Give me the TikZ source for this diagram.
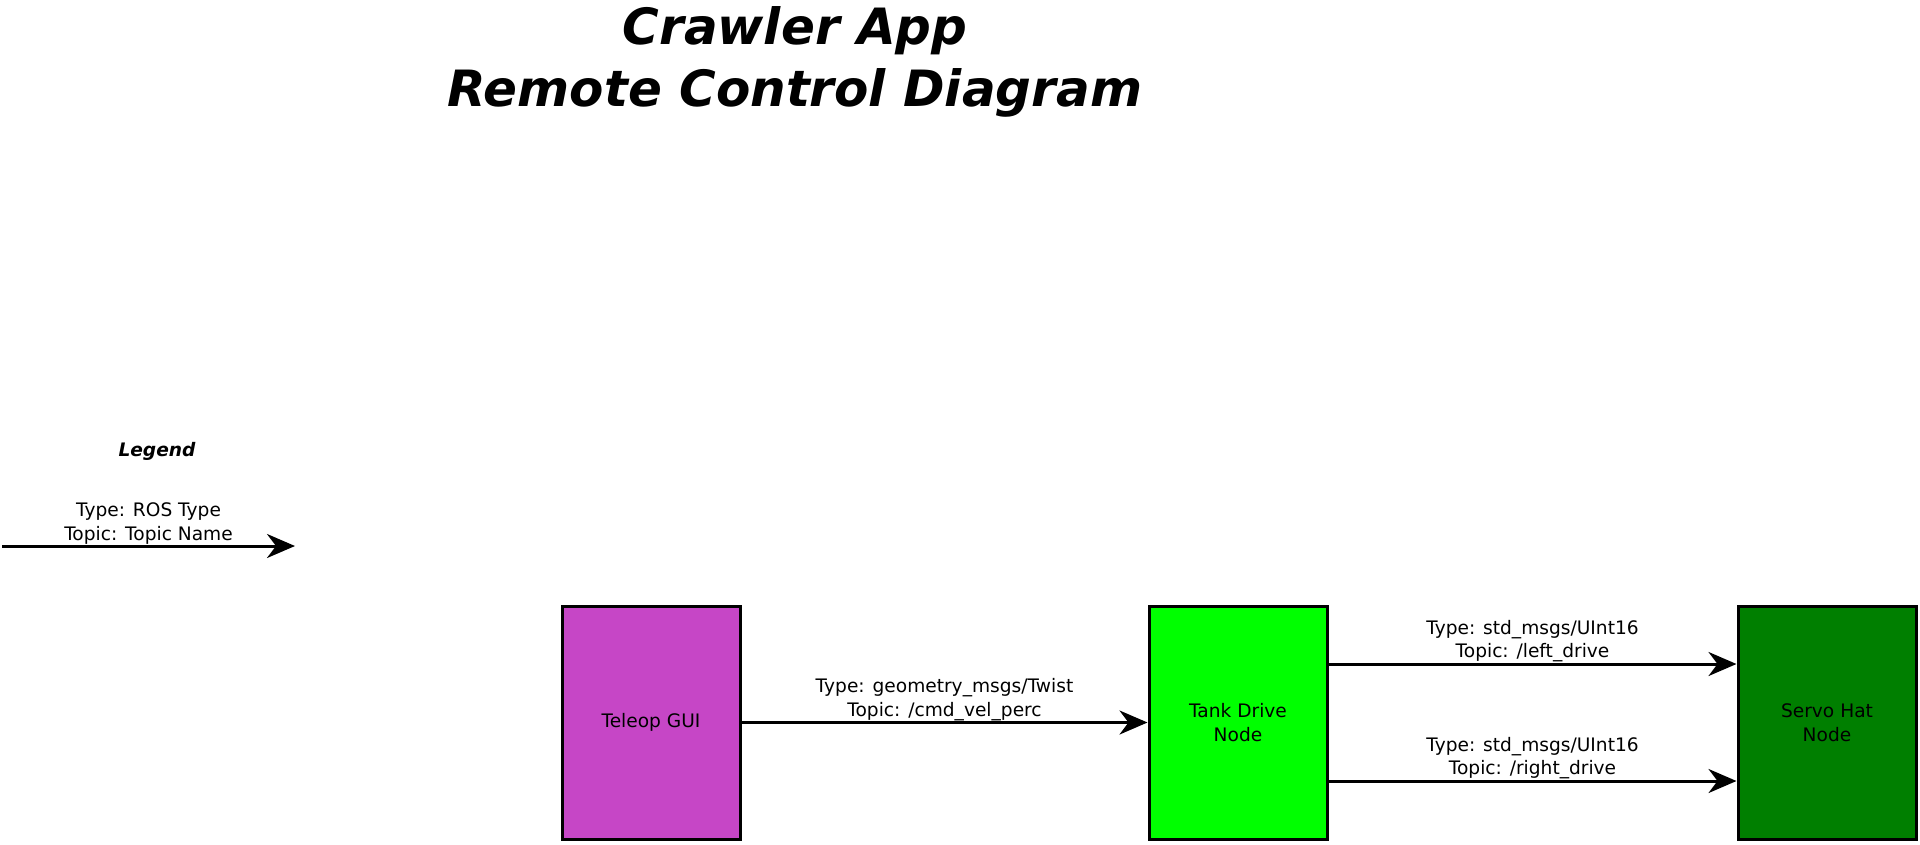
\documentclass[tikz,border=0pt]{standalone}
\usepackage{fontspec}
\setmainfont{DejaVu Sans}
\usetikzlibrary{arrows.meta,positioning}
\definecolor{teleop}{HTML}{C646C6}
\definecolor{tank}{HTML}{00FF00}
\definecolor{servo}{HTML}{007F00}

\begin{document}
\begin{tikzpicture}[x={(1pt,0pt)}, y={(0pt,-1pt)},
    rosnode/.style={draw, line width=3pt, minimum width=178pt, minimum height=233pt, align=center, font=\fontsize{18.6}{23.5}\selectfont},
    topic/.style={line width=3pt, -{Stealth[length=28pt, width=24pt, inset=9pt]}},
    msg/.style={above, align=center, inner sep=0.5pt, font=\fontsize{18.6}{23.5}\selectfont}]
    \useasboundingbox (0,0) rectangle (1920,844);

    % Title
    \node[align=center, font=\fontsize{50}{62}\selectfont\bfseries\itshape] (title) at (795,62) {Crawler App\\Remote Control Diagram};

    % Legend
    \node[font=\fontsize{18.6}{23.5}\selectfont\bfseries\itshape] (legend) at (157,451) {Legend};
    \coordinate (legstart) at (2,546);
    \coordinate (legend) at (295,546);
    \draw[topic] (legstart) -- (legend) node[msg, midway] {Type: ROS Type\\Topic: Topic Name};

    % The ROS nodes
    \node[rosnode, fill=teleop] (teleop) at (651,722.5) {Teleop GUI};
    \node[rosnode, fill=tank] (tank) at (1238,722.5) {Tank Drive\\Node};
    \node[rosnode, fill=servo] (servo) at (1827,722.5) {Servo Hat\\Node};

    % Topics
    \draw[topic] (teleop) -- (tank) node[msg, midway] {Type: geometry\_msgs/Twist\\Topic: /cmd\_vel\_perc};
    \draw[topic] ([yshift=58.5pt]tank.east) -- ([yshift=58.5pt]servo.west) node[msg, midway] {Type: std\_msgs/UInt16\\Topic: /left\_drive};
    \draw[topic] ([yshift=-58.5pt]tank.east) -- ([yshift=-58.5pt]servo.west) node[msg, midway] {Type: std\_msgs/UInt16\\Topic: /right\_drive};
\end{tikzpicture}
\end{document}
